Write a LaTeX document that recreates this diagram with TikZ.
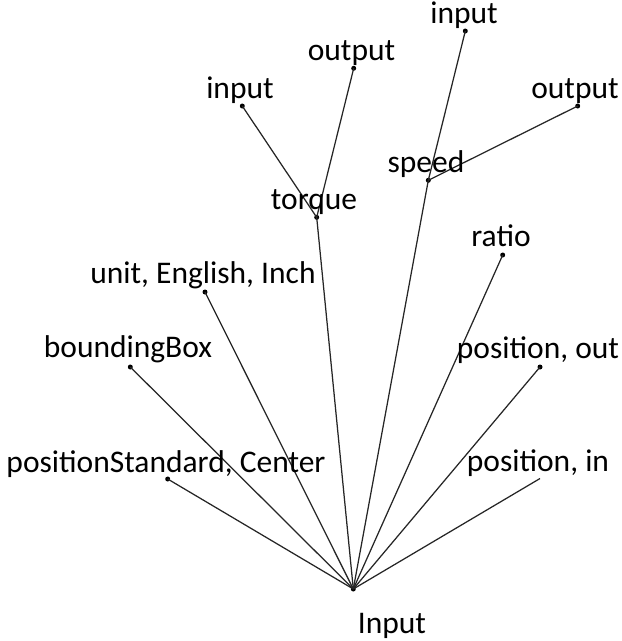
\documentclass[tikz,border=0pt]{standalone}
\usepackage{fontspec}
\setmainfont{Carlito}
\begin{document}
\begin{tikzpicture}[x=1pt,y=-1pt,
  dot/.style={circle,fill=black,inner sep=0pt,minimum size=5pt},
  lbl/.style={anchor=base,inner sep=0pt,font=\fontsize{31.5}{38}\selectfont},
  edge/.style={draw=black!85,line width=1.25pt}]
\useasboundingbox (0,0) rectangle (622,641);

% tree nodes
\node[dot] (root)   at (353.3,589) {};
\node[dot] (stdc)   at (167.7,479) {};
\node[dot] (bbox)   at (130.3,367) {};
\node[dot] (unit)   at (205,292) {};
\node[dot] (torque) at (316.7,217.3) {};
\node[dot] (tin)    at (242.3,106) {};
\node[dot] (tout)   at (353.7,68.3) {};
\node[dot] (speed)  at (428.3,180.3) {};
\node[dot] (sin)    at (465.3,31) {};
\node[dot] (sout)   at (577.7,106) {};
\node[dot] (ratio)  at (502.7,255) {};
\node[dot] (pout)   at (540,367) {};
\coordinate (pin) at (540,478.5);

% connectors
\foreach \c in {stdc,bbox,unit,torque,speed,ratio,pout}
  \draw[edge] (root.center) -- (\c.center);
\draw[edge] (root.center) -- (pin);
\draw[edge] (torque.center) -- (tin.center);
\draw[edge] (torque.center) -- (tout.center);
\draw[edge] (speed.center) -- (sin.center);
\draw[edge] (speed.center) -- (sout.center);

% labels
\node[lbl] (lroot)   at (392,633) {Input};
\node[lbl] (lstdc)   at (166,472) {positionStandard, Center};
\node[lbl] (lbbox)   at (128,357.5) {boundingBox};
\node[lbl] (lunit)   at (203,283.5) {unit, English, Inch};
\node[lbl] (ltorque) at (314,209) {torque};
\node[lbl] (ltin)    at (240,98) {input};
\node[lbl] (ltout)   at (351.5,60) {output};
\node[lbl] (lspeed)  at (426,172) {speed};
\node[lbl] (lsin)    at (464,23) {input};
\node[lbl] (lsout)   at (575,98) {output};
\node[lbl] (lratio)  at (501,246.5) {ratio};
\node[lbl] (lpout)   at (538,358.5) {position, out};
\node[lbl] (lpin)    at (538,471) {position, in};
\end{tikzpicture}
\end{document}
